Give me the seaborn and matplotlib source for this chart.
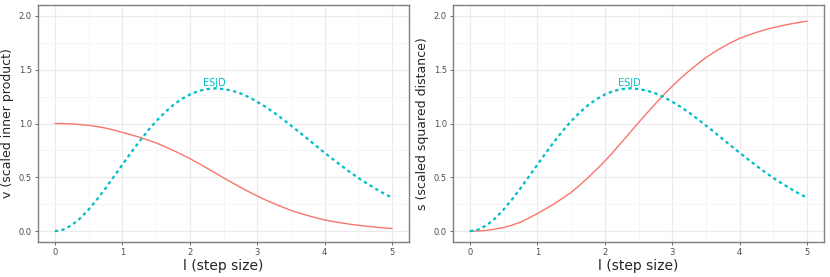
import numpy as np
import pandas as pd
import matplotlib
matplotlib.use("Agg")
import matplotlib.pyplot as plt
import seaborn as sns
from matplotlib.ticker import MultipleLocator

# step size grid
step = [0.0, 0.125, 0.25, 0.375, 0.5, 0.625, 0.75, 0.875, 1.0, 1.125, 1.25,
        1.375, 1.5, 1.625, 1.75, 1.875, 2.0, 2.125, 2.25, 2.375, 2.5,
        2.625, 2.75, 2.875, 3.0, 3.125, 3.25, 3.375, 3.5, 3.625, 3.75,
        3.875, 4.0, 4.125, 4.25, 4.375, 4.5, 4.625, 4.75, 4.875, 5.0]

# v (scaled inner product)
v_vals = [1.0, 0.999, 0.996, 0.990, 0.983, 0.972, 0.958, 0.939, 0.918, 0.896, 0.873,
          0.847, 0.820, 0.787, 0.752, 0.714, 0.675, 0.632, 0.587, 0.542, 0.496,
          0.452, 0.408, 0.366, 0.327, 0.290, 0.256, 0.224, 0.194, 0.168, 0.145,
          0.124, 0.105, 0.090, 0.077, 0.065, 0.055, 0.046, 0.038, 0.031, 0.025]

# s (scaled squared distance)
s_vals = [0.0, 0.002, 0.008, 0.020, 0.034, 0.056, 0.084, 0.122, 0.164, 0.208, 0.254,
          0.306, 0.360, 0.426, 0.496, 0.572, 0.650, 0.736, 0.826, 0.916, 1.008,
          1.096, 1.184, 1.268, 1.346, 1.420, 1.488, 1.552, 1.612, 1.664, 1.710,
          1.752, 1.790, 1.820, 1.846, 1.870, 1.890, 1.908, 1.924, 1.938, 1.950]

# ESJD curve (same on both panels)
esjd = [0.0, 0.015, 0.056, 0.120, 0.201, 0.295, 0.398, 0.507, 0.617, 0.726, 0.831,
        0.930, 1.020, 1.100, 1.169, 1.225, 1.269, 1.301, 1.319, 1.326, 1.320,
        1.305, 1.280, 1.245, 1.202, 1.154, 1.101, 1.042, 0.981, 0.919, 0.855,
        0.791, 0.728, 0.667, 0.607, 0.549, 0.494, 0.444, 0.396, 0.351, 0.311]

RED = "#F8766D"
CYAN = "#00BFC4"

sns.set_theme(style="white")
plt.rcParams["font.family"] = ["DejaVu Sans"]

df = pd.DataFrame({"l": step, "v": v_vals, "s": s_vals, "esjd": esjd})

fig = plt.figure(figsize=(8.3, 2.77), dpi=100)
ax1 = fig.add_axes([38 / 830, 1 - 242 / 277, 371 / 830, 237 / 277])
ax2 = fig.add_axes([453 / 830, 1 - 242 / 277, 371 / 830, 237 / 277])

panels = [(ax1, "v", "v (scaled inner product)"),
          (ax2, "s", "s (scaled squared distance)")]

for ax, col, ylab in panels:
    ax.set_facecolor("white")
    ax.xaxis.set_major_locator(MultipleLocator(1))
    ax.xaxis.set_minor_locator(MultipleLocator(0.5))
    ax.yaxis.set_major_locator(MultipleLocator(0.5))
    ax.yaxis.set_minor_locator(MultipleLocator(0.25))
    ax.grid(which="major", color="#EBEBEB", linewidth=0.9)
    ax.grid(which="minor", color="#F4F4F4", linewidth=0.6)
    ax.set_axisbelow(True)

    sns.lineplot(data=df, x="l", y=col, ax=ax, color=RED, linewidth=1.0)
    sns.lineplot(data=df, x="l", y="esjd", ax=ax, color=CYAN, linewidth=1.6,
                 linestyle=(0, (1.5, 1.5)))
    ax.text(2.37, 1.38, "ESJD", color=CYAN, fontsize=7, ha="center", va="center")

    ax.set_xlim(-0.25, 5.25)
    ax.set_ylim(-0.1, 2.1)
    ax.set_xlabel("l (step size)", fontsize=10, labelpad=1)
    ax.set_ylabel(ylab, fontsize=9, labelpad=3)
    ax.set_yticks([0, 0.5, 1.0, 1.5, 2.0])
    ax.set_yticklabels(["0.0", "0.5", "1.0", "1.5", "2.0"])
    ax.tick_params(axis="both", which="major", labelsize=6, colors="#4D4D4D",
                   length=2.5, width=0.6, pad=2, bottom=True, left=True)
    ax.tick_params(which="minor", length=0)
    for sp in ax.spines.values():
        sp.set_color("#7F7F7F")
        sp.set_linewidth(1.0)

fig.savefig("out.png", dpi=100)
